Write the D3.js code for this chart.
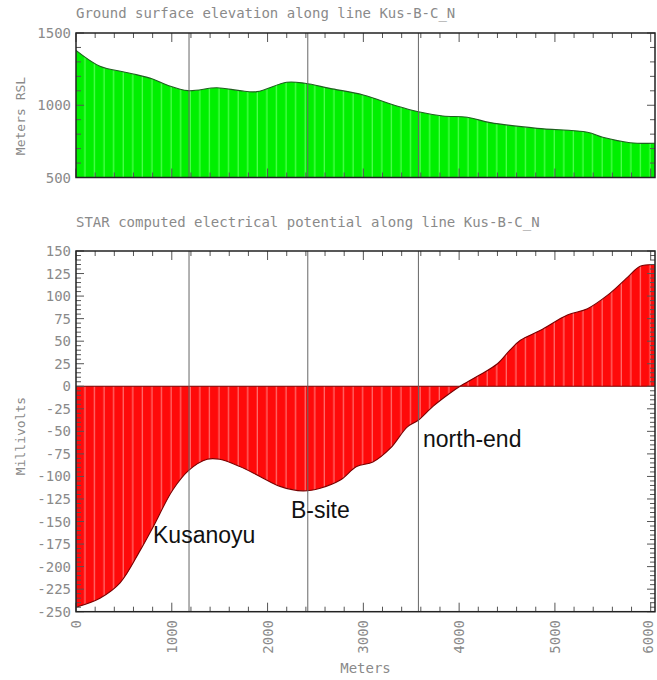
<!DOCTYPE html>
<html>
<head>
<meta charset="utf-8">
<script src="https://cdn.jsdelivr.net/npm/d3@7"></script>
<style>
  html, body { margin: 0; padding: 0; background: #fff; }
  svg { display: block; }
  .mono { font-family: "DejaVu Sans Mono", monospace; fill: #8a8a8a; }
  .note { font-family: "Liberation Sans", Arial, sans-serif; fill: #111; }
</style>
</head>
<body>
<svg id="chart" width="657" height="680"></svg>
<script>
// Distance along the profile line (m) and ground elevation (m RSL)
const elevDist = [0, 250, 490, 600, 800, 950, 1170, 1470, 1710, 1890, 2200, 2390, 2650, 3000, 3350, 3575, 3830, 4085, 4325, 4815, 5340, 5500, 5785, 6045];
const elevation = [1380, 1270, 1232, 1216, 1182, 1140, 1101, 1121, 1101, 1094, 1159, 1152, 1117, 1071, 995, 955, 926, 917, 880, 840, 813, 778, 741, 737];

// Distance along the profile line (m) and computed self-potential (mV)
const spDist = [0, 250, 460, 670, 805, 1010, 1180, 1370, 1500, 1710, 1920, 2130, 2370, 2550, 2760, 2930, 3100, 3280, 3460, 3570, 3730, 3900, 4010, 4190, 4400, 4530, 4640, 4850, 5130, 5340, 5550, 5760, 5890, 6045];
const potential = [-245, -235, -218, -182, -156, -115, -93, -81, -81, -89, -100, -111, -116, -113, -104, -89, -84, -69, -45, -38, -22, -8, 0, 11, 25, 40, 51, 62, 79, 86, 101, 121, 133, 135];

// Marker stations along the line
const siteDist = [1180, 2420, 3575];
const siteNames = ["Kusanoyu", "B-site", "north-end"];

// Tick labels
const elevTicks = [500, 1000, 1500];
const spTicks = [150, 125, 100, 75, 50, 25, 0, -25, -50, -75, -100, -125, -150, -175, -200, -225, -250];
const distTicks = [0, 1000, 2000, 3000, 4000, 5000, 6000];

const titles = [
  "Ground surface elevation along line Kus-B-C_N",
  "STAR computed electrical potential along line Kus-B-C_N"
];

const svg = d3.select("#chart");
const left = 76, right = 655;

const x = d3.scaleLinear().domain([0, 6045]).range([left, right]);
const yTop = d3.scaleLinear().domain([500, 1500]).range([177.5, 33]);
const yBot = d3.scaleLinear().domain([-250, 150]).range([611.7, 251]);

// stripe patterns giving the filled profiles their banded look
const defs = svg.append("defs");
function stripes(id, base, light) {
  const w = x(100) - x(0);
  const p = defs.append("pattern").attr("id", id).attr("patternUnits", "userSpaceOnUse")
    .attr("width", w).attr("height", 10).attr("x", left);
  p.append("rect").attr("width", w).attr("height", 10).attr("fill", base);
  p.append("rect").attr("x", w - 1.3).attr("width", 1.3).attr("height", 10).attr("fill", light);
}
stripes("greenStripe", "#00f000", "#4cff4c");
stripes("redStripe", "#ff0a0a", "#ff6a6a");

const curve = d3.curveCatmullRom.alpha(0.5);

function panel(y, dist, vals, baseVal, fillId, lineColor, yMinor, yMajor) {
  const area = d3.area().curve(curve)
    .x((d, i) => x(dist[i])).y0(y(baseVal)).y1(d => y(d));
  const line = d3.line().curve(curve)
    .x((d, i) => x(dist[i])).y(d => y(d));
  const [yb, yt] = y.range();

  svg.append("path").datum(vals).attr("d", area).attr("fill", `url(#${fillId})`);
  svg.append("path").datum(vals).attr("d", line).attr("fill", "none")
    .attr("stroke", lineColor).attr("stroke-width", 1.1);

  if (baseVal !== y.domain()[0]) {
    svg.append("line").attr("x1", left).attr("x2", right)
      .attr("y1", y(baseVal)).attr("y2", y(baseVal))
      .attr("stroke", "#7a0000").attr("stroke-width", 1);
  }

  // station markers
  svg.selectAll(null).data(siteDist).enter().append("line")
    .attr("x1", d => x(d)).attr("x2", d => x(d))
    .attr("y1", yt).attr("y2", yb)
    .attr("stroke", "#666").attr("stroke-width", 1);

  // inward ticks on all four sides
  const g = svg.append("g").attr("stroke", "#555").attr("stroke-width", 1);
  const xs = d3.range(0, 6001, 200);
  xs.forEach(v => {
    const len = v % 1000 === 0 ? 9 : 5;
    g.append("line").attr("x1", x(v)).attr("x2", x(v)).attr("y1", yb).attr("y2", yb - len);
    g.append("line").attr("x1", x(v)).attr("x2", x(v)).attr("y1", yt).attr("y2", yt + len);
  });
  const [d0, d1] = y.domain();
  d3.range(d0, d1 + 0.001, yMinor).forEach(v => {
    const len = (v - d0) % yMajor === 0 ? 8 : 5;
    g.append("line").attr("x1", left).attr("x2", left + len).attr("y1", y(v)).attr("y2", y(v));
    g.append("line").attr("x1", right).attr("x2", right - len).attr("y1", y(v)).attr("y2", y(v));
  });

  svg.append("rect").attr("x", left).attr("y", yt).attr("width", right - left).attr("height", yb - yt)
    .attr("fill", "none").attr("stroke", "#222").attr("stroke-width", 1.5);
}

panel(yTop, elevDist, elevation, 500, "greenStripe", "#1f5f1f", 100, 500);
panel(yBot, spDist, potential, 0, "redStripe", "#7a0000", 5, 25);

// titles
svg.append("text").attr("class", "mono").attr("x", left).attr("y", 18)
  .attr("font-size", 14).text(titles[0]);
svg.append("text").attr("class", "mono").attr("x", left).attr("y", 227)
  .attr("font-size", 14).text(titles[1]);

// y tick labels
svg.selectAll(null).data(elevTicks).enter().append("text").attr("class", "mono")
  .attr("x", 71).attr("y", d => yTop(d) + 5).attr("text-anchor", "end")
  .attr("font-size", 14).text(d => d);
svg.selectAll(null).data(spTicks).enter().append("text").attr("class", "mono")
  .attr("x", 71).attr("y", d => yBot(d) + 5).attr("text-anchor", "end")
  .attr("font-size", 14).text(d => d);

// x tick labels, rotated
svg.selectAll(null).data(distTicks).enter().append("text").attr("class", "mono")
  .attr("transform", d => `translate(${Math.min(x(d) + 5, 653)},620) rotate(-90)`)
  .attr("text-anchor", "end").attr("font-size", 14).text(d => d);

// axis titles
svg.append("text").attr("class", "mono").attr("transform", "translate(25,116) rotate(-90)")
  .attr("text-anchor", "middle").attr("font-size", 13).text("Meters RSL");
svg.append("text").attr("class", "mono").attr("transform", "translate(25,436) rotate(-90)")
  .attr("text-anchor", "middle").attr("font-size", 13).text("Millivolts");
svg.append("text").attr("class", "mono").attr("x", (left + right) / 2).attr("y", 673)
  .attr("text-anchor", "middle").attr("font-size", 14).text("Meters");

// station names
const notePos = [[153, 543], [291, 518], [423, 447]];
svg.selectAll(null).data(siteNames).enter().append("text").attr("class", "note")
  .attr("x", (d, i) => notePos[i][0]).attr("y", (d, i) => notePos[i][1])
  .attr("font-size", 23).text(d => d);
</script>
</body>
</html>
